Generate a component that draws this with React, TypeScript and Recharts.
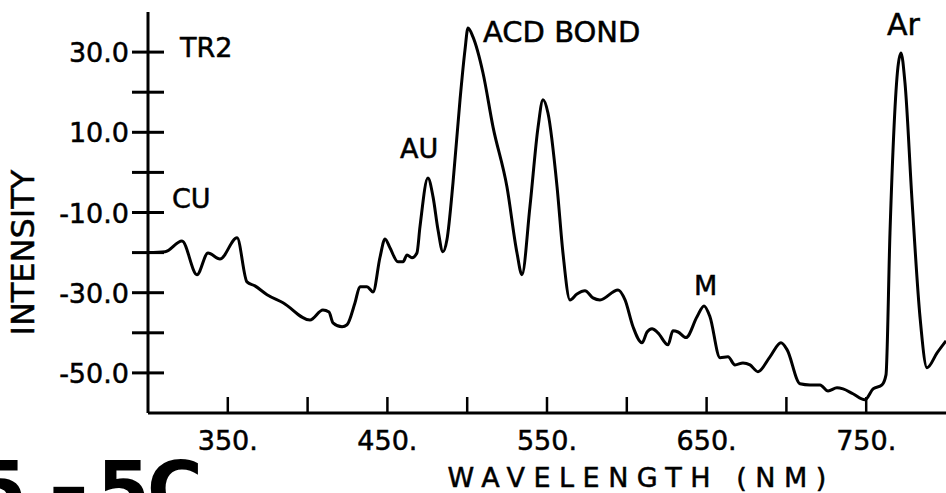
import React from 'react';
import { LineChart, Line, XAxis, YAxis, ReferenceDot } from 'recharts';

// Wavelength (nm) and intensity values
const wavelength = [
  300, 310.7, 321.3, 330.7, 337.6, 345.1, 355.8, 362.0, 367.0, 374.6,
  384.6, 401.5, 409.6, 413.4, 415.9, 421.6, 424.7, 429.7, 432.8, 437.2,
  441.0, 445.4, 448.5, 451.6, 456.6, 459.8, 462.3, 465.4, 468.5, 470.4,
  475.4, 478.6, 481.7, 484.8, 487.3, 491.1, 495.5, 498.6, 500.5, 503.6,
  509.9, 516.2, 524.9, 531.2, 534.3, 539.3, 544.4, 547.5, 550.6, 556.3,
  560.0, 564.4, 568.8, 573.8, 578.8, 583.2, 594.5, 598.9, 603.9, 609.5,
  612.7, 615.8, 619.5, 625.8, 628.9, 632.1, 637.1, 644.0, 648.4, 652.1,
  658.4, 663.4, 667.8, 672.8, 677.2, 682.2, 689.7, 696.6, 700.4, 708.5,
  714.8, 721.1, 726.1, 731.7, 735.5, 741.7, 749.2, 754.3, 759.9, 762.4,
  764.9, 769.9, 771.8, 774.3, 778.7, 783.7, 788.1, 794.4, 800,
];
const intensity = [
  -20, -19.8, -17.1, -25.5, -20.1, -21.6, -16.3, -27.3, -28.3, -30.5,
  -32.5, -36.8, -34.3, -34.8, -37.5, -38.5, -38.0, -32.5, -28.5, -28.5,
  -29.8, -21.1, -16.6, -18.8, -22.3, -22.3, -20.6, -21.3, -20.1, -13.6,
  -1.4, -6.1, -14.3, -19.8, -16.8, -2.6, 18.1, 30.5, 36.0, 33.8,
  24.8, 11.3, -3.6, -20.1, -25.5, -8.6, 11.3, 18.1, 14.8, -3.6,
  -20.1, -31.8, -30.3, -29.5, -31.3, -31.8, -29.3, -31.8, -38.5, -42.5,
  -39.8, -39.0, -40.0, -43.0, -39.5, -39.8, -41.2, -36.0, -33.3, -36.0,
  -46.2, -46.0, -48.0, -47.5, -48.0, -49.7, -46.0, -42.5, -44.2, -52.7,
  -53.0, -53.0, -54.5, -53.7, -54.0, -55.2, -56.7, -54.0, -53.0, -50.5,
  -15.1, 26.3, 29.8, 22.3, -6.9, -36.0, -48.7, -45.0, -42.0,
];

const xTicks = [350, 400, 450, 500, 550, 600, 650, 700, 750];
const xTickLabels = [350, 450, 550, 650, 750];
const yTicks = [-50, -40, -30, -20, -10, 0, 10, 20, 30];
const yTickLabels = [-50, -30, -10, 10, 30];

const annotationText = ['TR2', 'CU', 'AU', 'ACD BOND', 'M', 'Ar'];
const annotationX = [320, 315, 457.9, 509.9, 642.1, 763];
const annotationY = [28.8, -8.85, 3.6, 32.5, -30.5, 34.3];
const annotationSize = [27, 27, 27, 29, 27, 30];

const data = wavelength.map((w, i) => ({ wl: w, v: intensity[i] }));

const FONT = '"DejaVu Sans", sans-serif';
const INK = '#000';
const PEN = { stroke: INK, strokeWidth: 0.5 };

const XTick = (props: any) => {
  const { x, y, payload } = props;
  const v = payload.value;
  return (
    <g>
      <line x1={x} x2={x} y1={y} y2={y - 16} stroke={INK} strokeWidth={2.5} />
      {xTickLabels.includes(v) && (
        <text x={x} y={y + 37} textAnchor="middle" fontFamily={FONT} fontSize={27} fill={INK} {...PEN}>
          {`${v}.`}
        </text>
      )}
    </g>
  );
};

const YTick = (props: any) => {
  const { x, y, payload } = props;
  const v = payload.value;
  return (
    <g>
      <line x1={x - 16} x2={x + 16} y1={y} y2={y} stroke={INK} strokeWidth={3} />
      {yTickLabels.includes(v) && (
        <text x={x - 19} y={y + 10} textAnchor="end" fontFamily={FONT} fontSize={27} fill={INK} {...PEN}>
          {v.toFixed(1)}
        </text>
      )}
    </g>
  );
};

const XTitle = (props: any) => {
  const vb = props.viewBox || { x: 148, y: 413, width: 798, height: 80 };
  return (
    <text
      x={vb.x + vb.width * 0.618}
      y={vb.y + 74}
      textAnchor="middle"
      fontFamily={FONT}
      fontSize={27}
      letterSpacing={8.5}
      fill={INK}
      {...PEN}
    >
      WAVELENGTH (NM)
    </text>
  );
};

const YTitle = (props: any) => {
  const vb = props.viewBox || { x: 0, y: 12, width: 148, height: 401 };
  const cx = vb.x + 34;
  const cy = vb.y + vb.height * 0.6;
  return (
    <text
      x={cx}
      y={cy}
      transform={`rotate(-90 ${cx} ${cy})`}
      textAnchor="middle"
      fontFamily={FONT}
      fontSize={32}
      fill={INK}
      {...PEN}
    >
      INTENSITY
    </text>
  );
};

const makeAnnotation = (label: string, size: number) => (p: any) => (
  <text x={p.cx} y={p.cy} textAnchor="start" fontFamily={FONT} fontSize={size} fill={INK} {...PEN}>
    {label}
  </text>
);

export default function App() {
  return (
    <div style={{ position: 'absolute', left: 0, top: 0, width: 946, height: 493, overflow: 'hidden', background: '#fff' }}>
      <LineChart width={946} height={493} data={data} margin={{ top: 12, right: 0, bottom: 0, left: 0 }}>
        <XAxis
          dataKey="wl"
          type="number"
          domain={[300, 800]}
          ticks={xTicks}
          allowDataOverflow
          height={80}
          tickSize={0}
          tickMargin={0}
          tickLine={false}
          axisLine={{ stroke: INK, strokeWidth: 3 }}
          tick={<XTick />}
          interval={0}
          label={{ content: <XTitle /> }}
        />
        <YAxis
          type="number"
          domain={[-60, 40]}
          ticks={yTicks}
          allowDataOverflow
          width={148}
          tickSize={0}
          tickMargin={0}
          tickLine={false}
          axisLine={{ stroke: INK, strokeWidth: 3 }}
          tick={<YTick />}
          interval={0}
          label={{ content: <YTitle /> }}
        />
        <Line
          type="monotone"
          dataKey="v"
          stroke={INK}
          strokeWidth={3}
          dot={false}
          activeDot={false}
          isAnimationActive={false}
        />
        {annotationText.map((t, i) => (
          <ReferenceDot
            key={t}
            x={annotationX[i]}
            y={annotationY[i]}
            r={1}
            ifOverflow="visible"
            shape={makeAnnotation(t, annotationSize[i])}
          />
        ))}
      </LineChart>
      <svg width={946} height={493} style={{ position: 'absolute', left: 0, top: 0, pointerEvents: 'none' }}>
        <text y={516} fontFamily={FONT} fontWeight="bold" fontSize={76} fill={INK}>
          <tspan x={-26}>5</tspan>
          <tspan x={48} y={523} fontSize={100}>-</tspan>
          <tspan x={97} y={516}>5</tspan>
          <tspan x={147}>C</tspan>
        </text>
      </svg>
    </div>
  );
}
